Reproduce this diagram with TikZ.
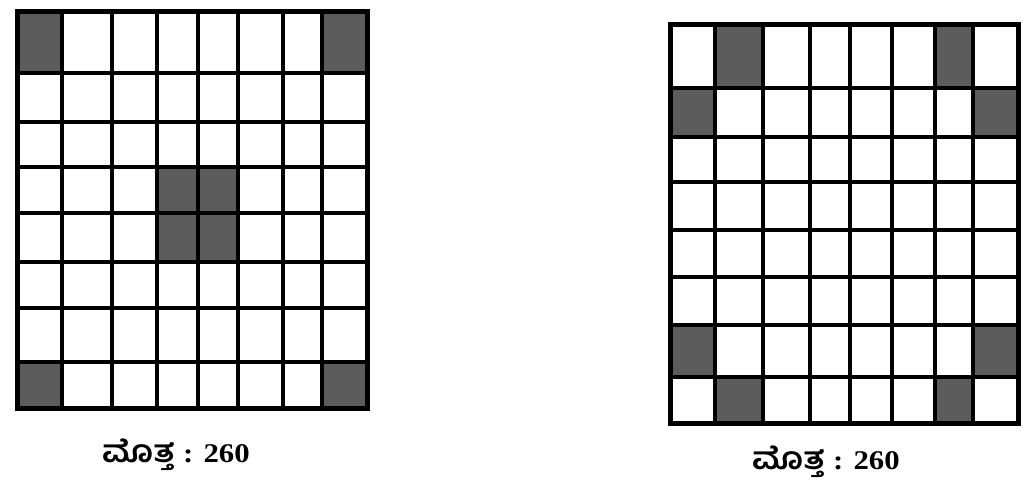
\documentclass[tikz,border=0pt]{standalone}
\usepackage{graphicx}
\usepackage{fontspec}
\setmainfont{Liberation Serif}
\newfontfamily\kanfont[Script=Kannada]{Hind Mysuru}
\tikzset{
  shade cell/.style={fill=black!64, draw=none},
  gridline/.style={line width=4.3pt, line cap=rect},
  outerline/.style={line width=5pt, line join=miter},
  sumlabel/.style={anchor=base west, inner sep=0pt, font=\fontsize{27}{30}\selectfont\bfseries}
}
\newcommand{\sumtext}{\scalebox{1.14}[1]{{\fontsize{31}{34}\selectfont\kanfont ಮೊತ್ತ} : 260}}
\begin{document}
\begin{tikzpicture}[x=1pt,y=-1pt]
\useasboundingbox (0,0) rectangle (1036,495);
\fill[white] (0,0) rectangle (1036,495);
% ---------- left grid ----------
\fill[shade cell] (17,12) rectangle (62,73);
\fill[shade cell] (322,12) rectangle (367,73);
\fill[shade cell] (157,167) rectangle (238,262);
\fill[shade cell] (17,362) rectangle (62,408);
\fill[shade cell] (322,362) rectangle (367,408);
\foreach \x in {62,112,157,198,238,283,322}
  \draw[gridline] (\x,12) -- (\x,408);
\foreach \y in {73,122,167,213,262,308,362}
  \draw[gridline] (17,\y) -- (367,\y);
\draw[outerline] (17,12) rectangle (367,408);
% ---------- right grid ----------
\fill[shade cell] (715,25) rectangle (763,88);
\fill[shade cell] (935,25) rectangle (973,88);
\fill[shade cell] (670,88) rectangle (715,137);
\fill[shade cell] (973,88) rectangle (1018,137);
\fill[shade cell] (670,325) rectangle (715,377);
\fill[shade cell] (973,325) rectangle (1018,377);
\fill[shade cell] (715,377) rectangle (763,423);
\fill[shade cell] (935,377) rectangle (973,423);
\foreach \x in {715,763,810,850,892,935,973}
  \draw[gridline] (\x,25) -- (\x,423);
\foreach \y in {88,137,182,230,277,325,377}
  \draw[gridline] (670,\y) -- (1018,\y);
\draw[outerline] (670,25) rectangle (1018,423);
% ---------- labels ----------
\node[sumlabel] (suml) at (102,462) {\sumtext};
\node[sumlabel] (sumr) at (752,469) {\sumtext};
\end{tikzpicture}
\end{document}
